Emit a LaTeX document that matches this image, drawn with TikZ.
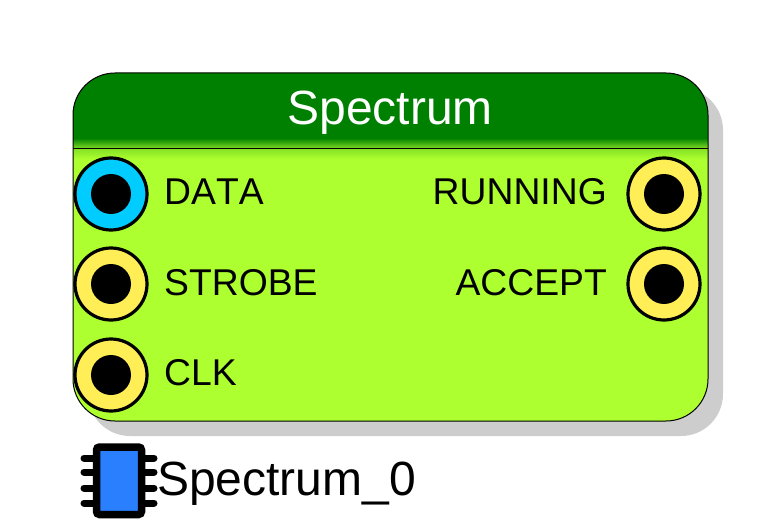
\documentclass[tikz,border=0pt]{standalone}
\usepackage{fontspec}
\setmainfont[Kerning=Off]{Liberation Sans}
\definecolor{hdr}{RGB}{0,128,0}
\definecolor{lime}{RGB}{173,255,47}
\definecolor{shad}{RGB}{205,205,205}
\definecolor{portblue}{RGB}{0,204,255}
\definecolor{portyellow}{RGB}{255,238,85}
\definecolor{chipblue}{RGB}{42,127,255}
\tikzset{
  portring/.style={circle,draw=black,line width=3.2pt,minimum size=72pt,inner sep=0pt},
  porthole/.style={circle,fill=black,minimum size=40pt,inner sep=0pt},
  lbl/.style={inner sep=0pt,font=\fontsize{37.3}{37}\selectfont,text=black},
  lblL/.style={lbl,anchor=base west},
  lblR/.style={lbl,anchor=base east},
  pin/.style={line width=7pt,line cap=round,black},
  panelround/.style={rounded corners=42pt}
}
\newcommand{\panelpath}{(73,73) rectangle (708,421)}
\begin{document}
\begin{tikzpicture}[x=1pt,y=-1pt]
\useasboundingbox (0,0) rectangle (782,527);
% shadow
\fill[shad,panelround] (88,88) rectangle (723,436);
% panel
\fill[lime,panelround] \panelpath;
\begin{scope}
  \clip[panelround] \panelpath;
  \fill[hdr] (73,73) rectangle (708,138);
  \shade[top color=hdr,bottom color=lime!70!hdr] (73,138) rectangle (708,148);
  \shade[top color=lime!75!hdr,bottom color=lime] (73,148) rectangle (708,159);
  \draw[black,line width=1pt] (73,148) -- (708,148);
\end{scope}
\draw[black,line width=1pt,panelround] \panelpath;
% title
\node[lbl,anchor=base,text=white,font=\fontsize{48}{48}\selectfont] (title) at (390,124.5) {Spectrum};
% ports
\node[portring,fill=portblue] (p1) at (111,194) {};
\node[porthole] (h1) at (p1.center) {};
\node[portring,fill=portyellow] (p2) at (111,284) {};
\node[porthole] (h2) at (p2.center) {};
\node[portring,fill=portyellow] (p3) at (111,375) {};
\node[porthole] (h3) at (p3.center) {};
\node[portring,fill=portyellow] (p4) at (664,194) {};
\node[porthole] (h4) at (p4.center) {};
\node[portring,fill=portyellow] (p5) at (664,284) {};
\node[porthole] (h5) at (p5.center) {};
% labels
\node[lblL] (l1) at (164,204.5) {DATA};
\node[lblL] (l2) at (164,295.5) {STROBE};
\node[lblL] (l3) at (164,385.5) {CLK};
\node[lblR] (l4) at (607,204.5) {RUNNING};
\node[lblR] (l5) at (607,295.5) {ACCEPT};
% chip
\foreach \y in {458,472,488,503} \draw[pin] (84,\y) -- (154,\y);
\draw[black,line width=7.5pt,fill=chipblue,rounded corners=3pt] (96.5,447) rectangle (141.5,514.5);
\node[lblL,font=\fontsize{48}{48}\selectfont] (inst) at (157,495.5) {Spectrum\_0};
\end{tikzpicture}
\end{document}
